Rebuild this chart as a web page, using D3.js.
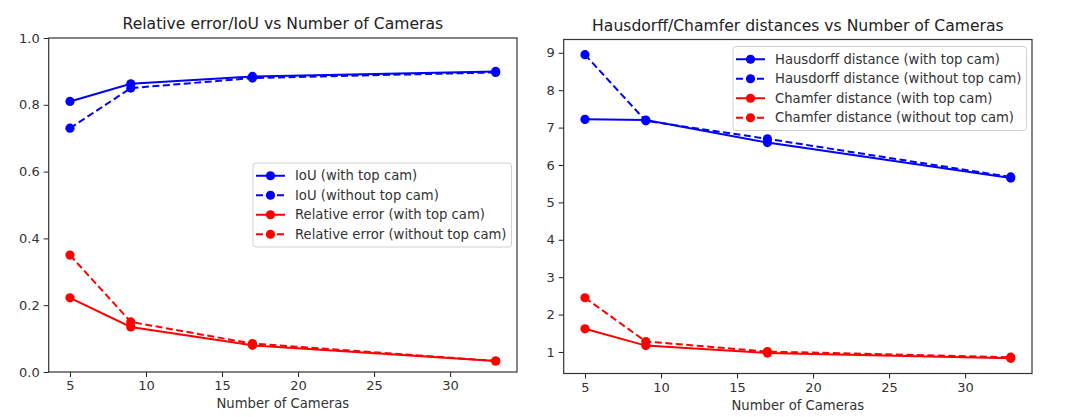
<!DOCTYPE html>
<html>
<head>
<meta charset="utf-8">
<script src="https://cdn.jsdelivr.net/npm/d3@7"></script>
<style>
  body { margin: 0; background: #fff; }
  svg text { font-family: "DejaVu Sans", sans-serif; fill: #222; }
</style>
</head>
<body>
<svg id="chart" width="1071" height="417"></svg>
<script>
// camera counts on the x axis
const cameras = [5, 9, 17, 33];

// left panel
const iouWithTop = [0.81, 0.863, 0.885, 0.90];
const iouWithoutTop = [0.73, 0.85, 0.88, 0.897];
const relErrWithTop = [0.222, 0.135, 0.08, 0.033];
const relErrWithoutTop = [0.35, 0.15, 0.085, 0.033];

// right panel
const hausdorffWithTop = [7.22, 7.2, 6.6, 5.65];
const hausdorffWithoutTop = [8.95, 7.18, 6.7, 5.68];
const chamferWithTop = [1.62, 1.17, 0.97, 0.83];
const chamferWithoutTop = [2.45, 1.28, 1.01, 0.86];

const xTicks = [5, 10, 15, 20, 25, 30];
const leftYTicks = [0.0, 0.2, 0.4, 0.6, 0.8, 1.0];
const rightYTicks = [1, 2, 3, 4, 5, 6, 7, 8, 9];

const svg = d3.select('#chart')

function drawPanel(cfg) {
    const g = svg.append('g')
    const x = d3.scaleLinear().domain([3.6, 34.4]).range([cfg.left, cfg.right])
    const y = d3.scaleLinear().domain(cfg.yDomain).range([cfg.bottom, cfg.top])

    const xAxis = d3.axisBottom(x).tickValues(xTicks).tickSize(5).tickPadding(4)
        .tickFormat(d3.format('d'))
    const yAxis = d3.axisLeft(y).tickValues(cfg.yTicks).tickSize(5).tickPadding(4)
        .tickFormat(cfg.yFormat)

    const gx = g.append('g').attr('transform', `translate(0,${cfg.bottom})`).call(xAxis)
    const gy = g.append('g').attr('transform', `translate(${cfg.left},0)`).call(yAxis)
    for (const ax of [gx, gy]) {
        ax.select('.domain').remove()
        ax.selectAll('line').attr('stroke', '#222')
        ax.selectAll('text').style('font-size', '13px').style('fill', '#333')
    }

    const line = d3.line().x((d, i) => x(cameras[i])).y(d => y(d))
    cfg.series.forEach(s => {
        g.append('path')
            .attr('d', line(s.values))
            .attr('fill', 'none')
            .attr('stroke', s.color)
            .attr('stroke-width', 2)
            .attr('stroke-dasharray', s.dashed ? '7,3.5' : null)
        g.selectAll(null).data(s.values).enter().append('circle')
            .attr('cx', (d, i) => x(cameras[i]))
            .attr('cy', d => y(d))
            .attr('r', 4.6)
            .attr('fill', s.color)
    })

    g.append('rect')
        .attr('x', cfg.left).attr('y', cfg.top)
        .attr('width', cfg.right - cfg.left).attr('height', cfg.bottom - cfg.top)
        .attr('fill', 'none').attr('stroke', '#333').attr('stroke-width', 1.2)

    g.append('text')
        .attr('x', (cfg.left + cfg.right) / 2).attr('y', cfg.top - 9)
        .attr('text-anchor', 'middle').style('font-size', '15.6px')
        .text(cfg.title)

    g.append('text')
        .attr('x', (cfg.left + cfg.right) / 2).attr('y', cfg.bottom + 36)
        .attr('text-anchor', 'middle').style('font-size', '13.2px')
        .style('fill', '#333')
        .text('Number of Cameras')

    // legend
    const lg = g.append('g')
    const box = lg.append('rect')
    const rowH = 19.5
    const items = lg.selectAll('g').data(cfg.series).enter().append('g')
        .attr('transform', (d, i) => `translate(0,${i * rowH})`)
    items.append('line')
        .attr('x1', 3).attr('x2', 32).attr('y1', 0).attr('y2', 0)
        .attr('stroke', d => d.color).attr('stroke-width', 2)
        .attr('stroke-dasharray', d => d.dashed ? '7,3.5' : null)
    items.append('circle').attr('cx', 17.5).attr('cy', 0).attr('r', 4.6)
        .attr('fill', d => d.color)
    items.append('text').attr('x', 42).attr('y', 4.6)
        .style('font-size', '13.2px').style('fill', '#333')
        .text(d => d.name)
    let maxW = 0
    items.selectAll('text').each(function () { maxW = Math.max(maxW, this.getComputedTextLength()) })
    const w = 42 + maxW + 5
    const h = cfg.series.length * rowH + 6
    box.attr('x', 0).attr('y', -rowH / 2 - 3).attr('width', w).attr('height', h)
        .attr('rx', 3).attr('fill', 'white').attr('fill-opacity', 0.85)
        .attr('stroke', '#d0d0d0')
    const lx = cfg.right - 5.5 - w
    const ly = cfg.legendLoc === 'center'
        ? (cfg.top + cfg.bottom) / 2 - h / 2 + rowH / 2 + 3
        : cfg.top + 7 + rowH / 2 + 3
    lg.attr('transform', `translate(${lx},${ly})`)
}

drawPanel({
    left: 48.7, right: 517, top: 38, bottom: 372,
    yDomain: [0, 1], yTicks: leftYTicks, yFormat: d3.format('.1f'),
    title: 'Relative error/IoU vs Number of Cameras',
    legendLoc: 'center',
    series: [
        { name: 'IoU (with top cam)', values: iouWithTop, color: '#0000ff', dashed: false },
        { name: 'IoU (without top cam)', values: iouWithoutTop, color: '#0000ff', dashed: true },
        { name: 'Relative error (with top cam)', values: relErrWithTop, color: '#ff0000', dashed: false },
        { name: 'Relative error (without top cam)', values: relErrWithoutTop, color: '#ff0000', dashed: true }
    ]
})

drawPanel({
    left: 563.7, right: 1032, top: 39.5, bottom: 373.5,
    yDomain: [0.424, 9.356], yTicks: rightYTicks, yFormat: d3.format('d'),
    title: 'Hausdorff/Chamfer distances vs Number of Cameras',
    legendLoc: 'upper',
    series: [
        { name: 'Hausdorff distance (with top cam)', values: hausdorffWithTop, color: '#0000ff', dashed: false },
        { name: 'Hausdorff distance (without top cam)', values: hausdorffWithoutTop, color: '#0000ff', dashed: true },
        { name: 'Chamfer distance (with top cam)', values: chamferWithTop, color: '#ff0000', dashed: false },
        { name: 'Chamfer distance (without top cam)', values: chamferWithoutTop, color: '#ff0000', dashed: true }
    ]
})
</script>
</body>
</html>
